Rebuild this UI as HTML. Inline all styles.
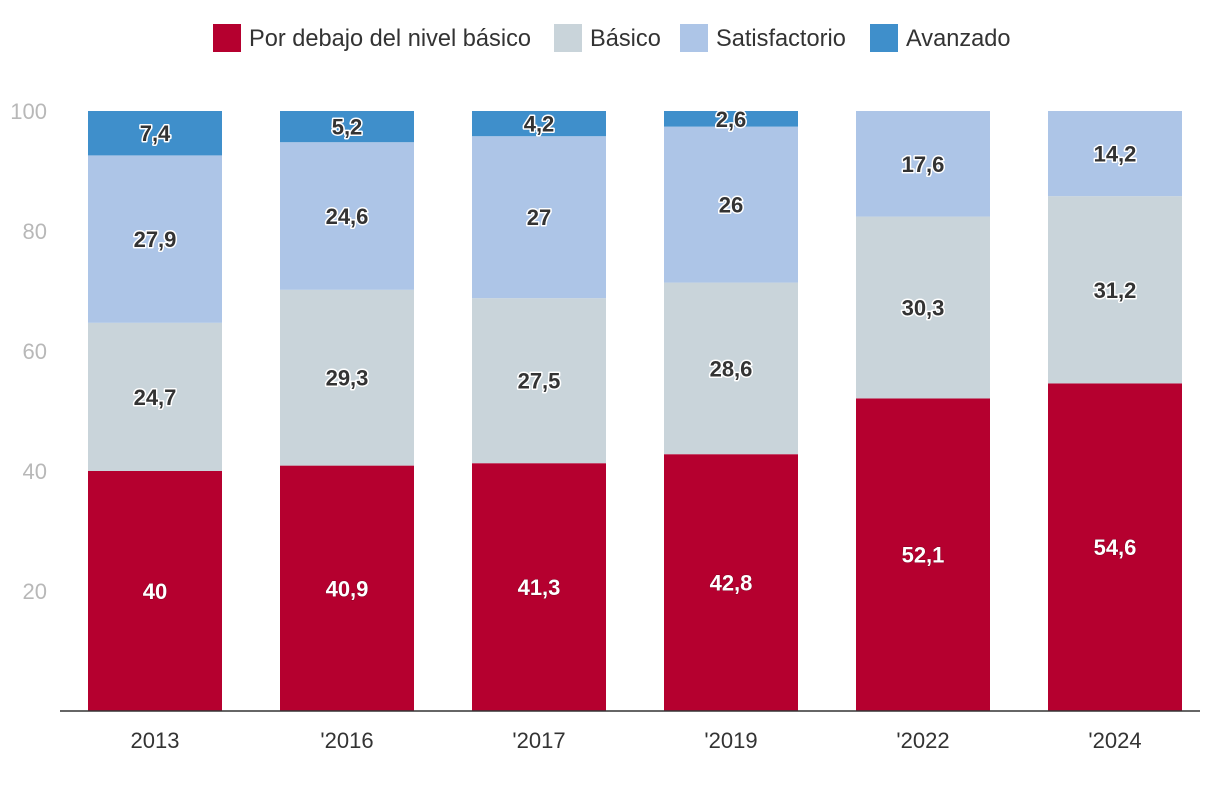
<!DOCTYPE html>
<html><head><meta charset="utf-8"><style>
body{margin:0;background:#fff;width:1220px;height:782px;overflow:hidden;font-family:"Liberation Sans",sans-serif}
svg text{font-family:"Liberation Sans",sans-serif}
</style></head><body>
<svg id="chart" width="1220" height="782">
<g id="legend"></g>
<g id="yaxis"></g>
<g id="bars"></g>
<g id="xaxis"></g>
</svg>
<script>
const categories=["2013","'2016","'2017","'2019","'2022","'2024"];
const seriesNames=["Por debajo del nivel básico","Básico","Satisfactorio","Avanzado"];
const belowBasic=[40,40.9,41.3,42.8,52.1,54.6];
const basic=[24.7,29.3,27.5,28.6,30.3,31.2];
const satisfactory=[27.9,24.6,27,26,17.6,14.2];
const advanced=[7.4,5.2,4.2,2.6,0,0];
const yTicks=[20,40,60,80,100];
const colors=["#b5002f","#c9d4da","#adc5e7","#3f8fcb"];
const NS="http://www.w3.org/2000/svg";
function mk(t,a,p){const e=document.createElementNS(NS,t);for(const k in a)e.setAttribute(k,a[k]);p.appendChild(e);return e;}
const y=v=>711-v*6;
const x=i=>88+i*192;
const bw=134;
const series=[belowBasic,basic,satisfactory,advanced];
const slugs=["below-basic","basic","satisfactory","advanced"];
const lg=document.getElementById('legend');
const lx=[213,554,680,870];
seriesNames.forEach((n,i)=>{
  const r=mk('rect',{x:lx[i],y:24,width:28,height:28,fill:colors[i]},lg);
  
  
  const t=mk('text',{x:lx[i]+36,y:46,'font-size':23.6,fill:'#333'},lg);
  t.textContent=n;
  
  
});
const ya=document.getElementById('yaxis');
yTicks.forEach(v=>{
  const t=mk('text',{x:47,y:y(v)+8,'font-size':22,fill:'#b8b8b8','text-anchor':'end'},ya);
  t.textContent=v;
  
  
});
const bg=document.getElementById('bars');
categories.forEach((c,i)=>{
  let base=0;
  series.forEach((s,j)=>{
    const v=s[i];
    if(v<=0)return;
    const r=mk('rect',{x:x(i),y:y(base+v),width:bw,height:v*6,fill:colors[j]},bg);
    
    
    const cy=y(base+v/2)+8;
    const lab=String(v).replace('.',',');
    const t=mk('text',{x:x(i)+bw/2,y:cy,'font-size':22,'font-weight':'bold','text-anchor':'middle',
      fill:j==0?'#fff':'#333',stroke:j==0?'rgba(0,0,0,0.25)':'#fff','stroke-width':j==0?1:3,'paint-order':'stroke','stroke-linejoin':'round'},bg);
    t.textContent=lab;
    
    
    base+=v;
  });
});
const xa=document.getElementById('xaxis');
const ln=mk('line',{x1:60,x2:1200,y1:711,y2:711,stroke:'#333','stroke-width':1.5},xa);


categories.forEach((c,i)=>{
  const t=mk('text',{x:x(i)+bw/2,y:748,'font-size':22,fill:'#333','text-anchor':'middle'},xa);
  t.textContent=c;
  
  
});
</script>
</body></html>
